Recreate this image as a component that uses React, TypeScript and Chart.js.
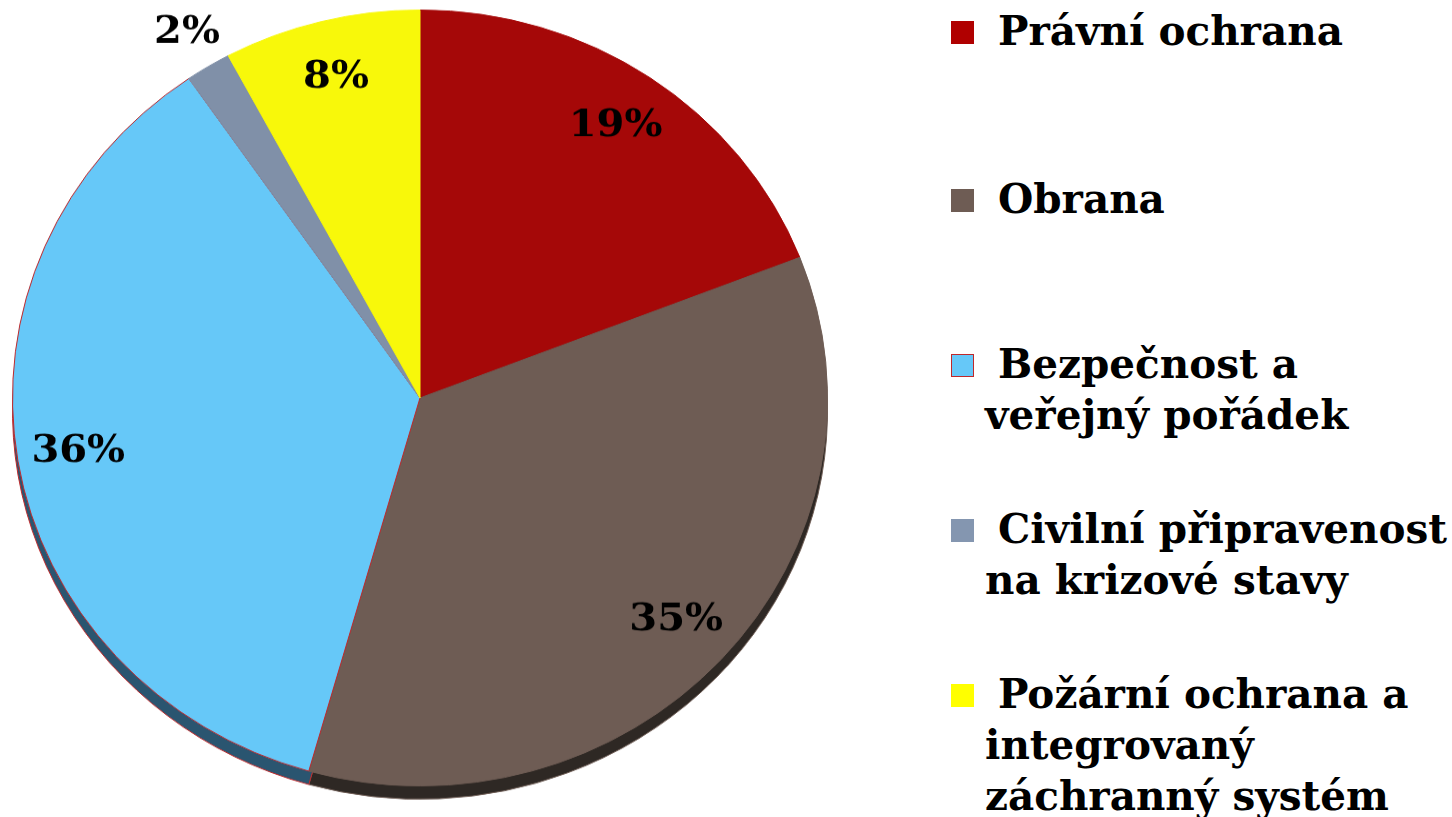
import React, { useEffect, useRef } from "react";
import { Chart, registerables } from "chart.js";

Chart.register(...registerables);

const categories = [
  "Právní ochrana",
  "Obrana",
  "Bezpečnost a veřejný pořádek",
  "Civilní připravenost na krizové stavy",
  "Požární ochrana a integrovaný záchranný systém",
];
const values = [19.1, 35.3, 36.0, 1.8, 7.8];
const valueLabels = ["19%", "35%", "36%", "2%", "8%"];
const legendLines = [
  ["Právní ochrana"],
  ["Obrana"],
  ["Bezpečnost a", "veřejný pořádek"],
  ["Civilní připravenost", "na krizové stavy"],
  ["Požární ochrana a", "integrovaný", "záchranný systém"],
];

const fillColors = ["#A50808", "#6E5C54", "#66C8F8", "#8090A8", "#F8F80A"];
const borderColors = ["#A50808", "#6E5C54", "#C0282A", "#8090A8", "#F8F80A"];
const sideColors = ["#5A0404", "#2E2824", "#2A5570", "#404858", "#7A7A05"];
const legendColors = ["#B00000", "#6E5C54", "#66C8F8", "#8496B0", "#FFFF00"];
const legendBorders = ["#B00000", "#6E5C54", "#C0282A", "#8496B0", "#FFFF00"];

const FONT = "'DejaVu Serif', serif";

const sidePlugin = {
  id: "side3d",
  beforeDatasetsDraw(chart: any) {
    const ctx = chart.ctx;
    const meta = chart.getDatasetMeta(0);
    const d = 14;
    ctx.save();
    meta.data.forEach((arc: any, i: number) => {
      const { x, y, startAngle, endAngle, outerRadius } = arc.getProps(
        ["x", "y", "startAngle", "endAngle", "outerRadius"],
        true
      );
      ctx.beginPath();
      ctx.moveTo(x, y + d);
      ctx.arc(x, y + d, outerRadius, startAngle, endAngle);
      ctx.closePath();
      ctx.fillStyle = sideColors[i];
      ctx.fill();
      ctx.lineWidth = 1;
      ctx.strokeStyle = borderColors[i];
      ctx.stroke();
    });
    ctx.restore();
  },
};

const labelPlugin = {
  id: "pctLabels",
  afterDatasetsDraw(chart: any) {
    const ctx = chart.ctx;
    const meta = chart.getDatasetMeta(0);
    ctx.save();
    ctx.font = `bold 40px ${FONT}`;
    ctx.fillStyle = "#000";
    ctx.textAlign = "center";
    ctx.textBaseline = "middle";
    meta.data.forEach((arc: any, i: number) => {
      const { x, y, startAngle, endAngle, outerRadius } = arc.getProps(
        ["x", "y", "startAngle", "endAngle", "outerRadius"],
        true
      );
      const mid = (startAngle + endAngle) / 2;
      const f = values[i] < 5 && endAngle - startAngle < 0.2 ? 1.1 : 0.85;
      const r = outerRadius * f;
      ctx.fillText(valueLabels[i], x + Math.cos(mid) * r, y + Math.sin(mid) * r);
    });
    ctx.restore();
  },
};

export default function App() {
  const ref = useRef<HTMLCanvasElement | null>(null);
  useEffect(() => {
    if (!ref.current) return;
    const chart = new Chart(ref.current, {
      type: "pie",
      data: {
        labels: categories,
        datasets: [
          {
            data: values,
            backgroundColor: fillColors,
            borderColor: borderColors,
            borderWidth: 1,
            hoverOffset: 0,
            offset: 0,
          },
        ],
      },
      options: {
        responsive: false,
        animation: false,
        events: [],
        layout: { padding: { left: 12, right: 12, top: 10, bottom: 34 } },
        plugins: {
          legend: { display: false },
          tooltip: { enabled: false },
        },
      },
      plugins: [sidePlugin, labelPlugin],
    });
    return () => chart.destroy();
  }, []);

  return (
    <div
      style={{
        position: "absolute",
        left: 0,
        top: 0,
        width: 1452,
        height: 817,
        background: "#fff",
        overflow: "hidden",
      }}
    >
      <div
        style={{
          position: "absolute",
          left: 0,
          top: 0,
          width: 840,
          height: 860,
          transform: "scale(1, 0.952)",
          transformOrigin: "0 0",
        }}
      >
        <canvas ref={ref} width={840} height={860} style={{ width: 840, height: 860 }} />
      </div>
      {legendLines.map((lines, i) => (
        <div key={i}>
          <div
            style={{
              position: "absolute",
              left: 951,
              top: [21, 189, 354, 519, 684][i],
              width: 21,
              height: 21,
              background: legendColors[i],
              border: `1px solid ${legendBorders[i]}`,
            }}
          />
          {lines.map((t, j) => (
            <div
              key={j}
              style={{
                position: "absolute",
                left: j === 0 ? 998 : 985,
                top: [32, 200, 365, 530, 695][i] + j * 51 - 26,
                height: 51,
                lineHeight: "51px",
                fontFamily: FONT,
                fontWeight: "bold",
                fontSize: 40.5,
                color: "#000",
                whiteSpace: "nowrap",
              }}
            >
              {t}
            </div>
          ))}
        </div>
      ))}
    </div>
  );
}
